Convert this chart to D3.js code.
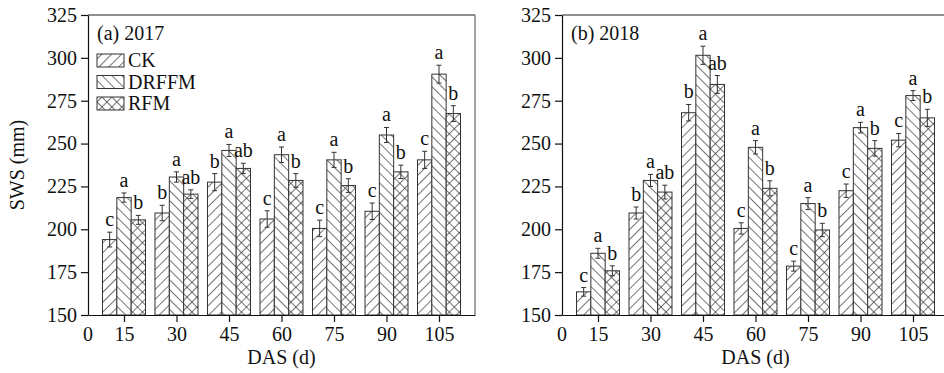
<!DOCTYPE html>
<html>
<head>
<meta charset="utf-8">
<script src="https://cdn.jsdelivr.net/npm/d3@7"></script>
<style>
  body { margin: 0; background: #fff; }
  svg { display: block; }
  text { font-family: "Liberation Serif", "Times New Roman", serif; fill: #111; }
</style>
</head>
<body>
<script>
// data
const days = [15, 30, 45, 60, 75, 90, 105]
const treatments = ['CK', 'DRFFM', 'RFM']
const yTicks = [150, 175, 200, 225, 250, 275, 300, 325]

// (a) 2017
const ck2017 = [194, 209.5, 227.5, 206, 200.5, 210.5, 240.5]
const ck2017Err = [4.3, 4.5, 5, 4.8, 4.8, 4.8, 5]
const drffm2017 = [218.5, 230.5, 246, 243.5, 240.5, 255, 290.5]
const drffm2017Err = [2.7, 3, 3.5, 4.5, 4.4, 4.4, 5.2]
const rfm2017 = [205.5, 220.5, 235.5, 228.5, 225.5, 233.5, 267.5]
const rfm2017Err = [2.6, 2.5, 3, 4, 4, 3.9, 4.6]

// (b) 2018
const ck2018 = [163.5, 209.5, 268, 200.5, 178.5, 222.5, 252]
const ck2018Err = [2.5, 3.5, 4.8, 3.3, 2.9, 3.9, 3.9]
const drffm2018 = [186, 228.5, 301.5, 247.8, 215, 259.3, 278]
const drffm2018Err = [2.9, 3.5, 5.3, 3.9, 3.5, 3.1, 2.9]
const rfm2018 = [175.8, 221.7, 284.5, 223.9, 199.6, 247.2, 265]
const rfm2018Err = [2.9, 4, 5.2, 4.4, 3.9, 4.5, 5]

// significance letters
const ckLetters = ['c', 'b', 'b', 'c', 'c', 'c', 'c']
const drffmLetters = ['a', 'a', 'a', 'a', 'a', 'a', 'a']
const rfmLetters = ['b', 'ab', 'ab', 'b', 'b', 'b', 'b']

const width = 944
const height = 373
const fontSize = 20

const svg = d3.select('body').append('svg')
    .attr('width', width)
    .attr('height', height)

// hatch patterns
const defs = svg.append('defs')
const makePattern = (id, angle) => {
    defs.append('pattern')
        .attr('id', id)
        .attr('patternUnits', 'userSpaceOnUse')
        .attr('width', 7)
        .attr('height', 7)
        .attr('patternTransform', `rotate(${angle})`)
        .append('line')
            .attr('x1', 3.5).attr('y1', 0)
            .attr('x2', 3.5).attr('y2', 7)
            .attr('stroke', '#3a3a3a')
            .attr('stroke-width', 0.7)
}
makePattern('fwd', 45)
makePattern('back', -45)
const fills = {CK: ['url(#fwd)'], DRFFM: ['url(#back)'], RFM: ['url(#fwd)', 'url(#back)']}

const drawPanel = (x0, title, series, showYTitle) => {
    const top = 15, h = 300, w = 387
    const g = svg.append('g').attr('transform', `translate(${x0}, ${top})`)

    const x = d3.scalePoint().domain(days).range([0, w]).padding(0.6857)
    const xSub = d3.scaleBand().domain(treatments).range([-21.5, 21.5])
    const y = d3.scaleLinear().domain([150, 325]).range([h, 0])

    // frame top / right
    g.append('line').attr('x1', 0).attr('x2', w).attr('y1', 0).attr('y2', 0)
        .attr('stroke', '#222').attr('stroke-width', 1.2)
    g.append('line').attr('x1', w).attr('x2', w).attr('y1', 0).attr('y2', h)
        .attr('stroke', '#666').attr('stroke-width', 1.2)

    const groups = g.append('g').selectAll('g')
        .data(series)
        .enter()
        .append('g')

    groups.each(function(s) {
        const sel = d3.select(this)
        const rows = days.map((d, i) => ({day: d, v: s.values[i], e: s.err[i], l: s.letters[i]}))

        const bars = sel.selectAll('g.bar').data(rows).enter().append('g').attr('class', 'bar')
        const bx = d => x(d.day) + xSub(s.name)
        const bw = xSub.bandwidth()

        bars.append('rect')
            .attr('x', bx).attr('y', d => y(d.v))
            .attr('width', bw).attr('height', d => h - y(d.v))
            .attr('fill', '#fff')
        fills[s.name].forEach(f => {
            bars.append('rect')
                .attr('x', bx).attr('y', d => y(d.v))
                .attr('width', bw).attr('height', d => h - y(d.v))
                .attr('fill', f)
        })
        bars.append('rect')
            .attr('x', bx).attr('y', d => y(d.v))
            .attr('width', bw).attr('height', d => h - y(d.v))
            .attr('fill', 'none')
            .attr('stroke', '#333')
            .attr('stroke-width', 1)

        // error bars
        const cx = d => bx(d) + bw / 2
        bars.append('line')
            .attr('x1', cx).attr('x2', cx)
            .attr('y1', d => y(d.v + d.e)).attr('y2', d => y(d.v - d.e))
            .attr('stroke', '#333').attr('stroke-width', 1)
        bars.append('line')
            .attr('x1', d => cx(d) - 2.5).attr('x2', d => cx(d) + 2.5)
            .attr('y1', d => y(d.v + d.e)).attr('y2', d => y(d.v + d.e))
            .attr('stroke', '#333').attr('stroke-width', 1)
        bars.append('line')
            .attr('x1', d => cx(d) - 2.5).attr('x2', d => cx(d) + 2.5)
            .attr('y1', d => y(d.v - d.e)).attr('y2', d => y(d.v - d.e))
            .attr('stroke', '#333').attr('stroke-width', 1)

        bars.append('text')
            .attr('x', cx)
            .attr('y', d => y(d.v + d.e) - 6)
            .attr('text-anchor', 'middle')
            .style('font-size', fontSize + 'px')
            .text(d => d.l)
    })

    // axes
    const yAxis = g.append('g')
        .call(d3.axisLeft(y).tickValues(yTicks).tickSize(7).tickPadding(4).tickSizeOuter(0))
    const xAxis = g.append('g')
        .attr('transform', `translate(0, ${h})`)
        .call(d3.axisBottom(x).tickSize(7).tickPadding(5).tickSizeOuter(0))
    xAxis.append('text')
        .attr('x', 0).attr('y', 12).attr('dy', '0.71em')
        .attr('text-anchor', 'middle')
        .text('0')
    ;[yAxis, xAxis].forEach(a => {
        a.selectAll('path, line').attr('stroke', '#111').attr('stroke-width', 1.2)
        a.selectAll('text').style('font-size', fontSize + 'px')
            .style('font-family', '"Liberation Serif", "Times New Roman", serif')
            .attr('fill', '#111')
    })

    g.append('text')
        .attr('x', w / 2).attr('y', 349)
        .attr('text-anchor', 'middle')
        .style('font-size', fontSize + 'px')
        .text('DAS (d)')

    if (showYTitle) {
        g.append('text')
            .attr('transform', `translate(${24 - x0}, ${h / 2}) rotate(-90)`)
            .attr('text-anchor', 'middle')
            .style('font-size', fontSize + 'px')
            .text('SWS (mm)')
    }

    g.append('text')
        .attr('x', 9).attr('y', 25)
        .style('font-size', fontSize + 'px')
        .text(title)
    return g
}

const panelA = drawPanel(88, '(a) 2017', [
    {name: 'CK', values: ck2017, err: ck2017Err, letters: ckLetters},
    {name: 'DRFFM', values: drffm2017, err: drffm2017Err, letters: drffmLetters},
    {name: 'RFM', values: rfm2017, err: rfm2017Err, letters: rfmLetters}
], true)

drawPanel(562, '(b) 2018', [
    {name: 'CK', values: ck2018, err: ck2018Err, letters: ckLetters},
    {name: 'DRFFM', values: drffm2018, err: drffm2018Err, letters: drffmLetters},
    {name: 'RFM', values: rfm2018, err: rfm2018Err, letters: rfmLetters}
], false)

// legend in panel a
const legend = panelA.append('g').attr('transform', 'translate(9, 39)')
const legendRows = legend.selectAll('g').data(treatments).enter().append('g')
    .attr('transform', (d, i) => `translate(0, ${i * 21.5})`)
legendRows.each(function(name) {
    const r = d3.select(this)
    r.append('rect').attr('width', 27).attr('height', 13).attr('fill', '#fff')
    fills[name].forEach(p => r.append('rect').attr('width', 27).attr('height', 13).attr('fill', p))
    r.append('rect').attr('width', 27).attr('height', 13)
        .attr('fill', 'none').attr('stroke', '#333').attr('stroke-width', 1)
})
legendRows.append('text')
    .attr('x', 31).attr('y', 13)
    .style('font-size', fontSize + 'px')
    .text(d => d)
</script>
</body>
</html>
